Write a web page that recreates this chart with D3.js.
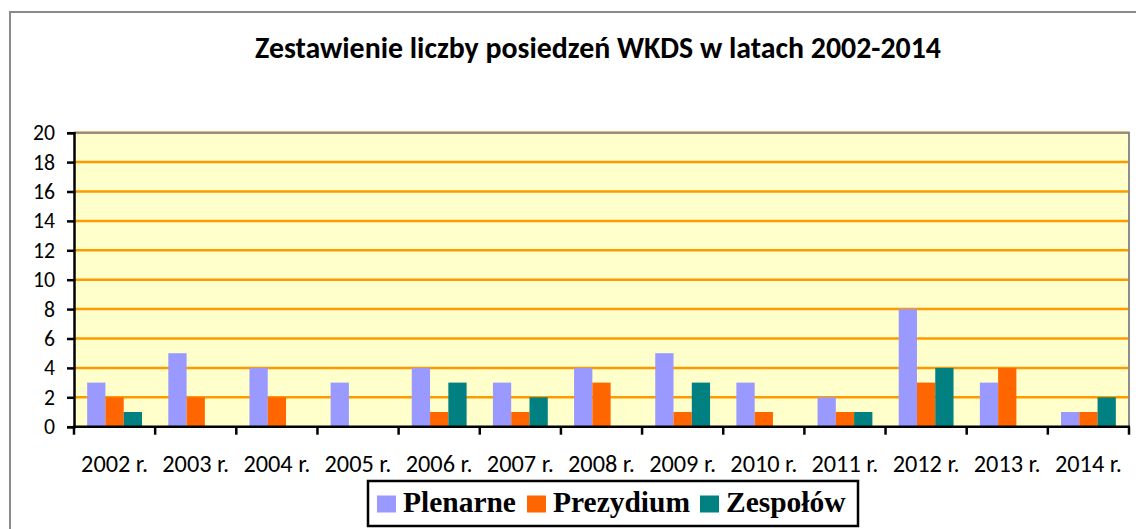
<!DOCTYPE html>
<html>
<head>
<meta charset="utf-8">
<script src="https://cdn.jsdelivr.net/npm/d3@7"></script>
<style>
  body { margin: 0; background: #fff; }
  svg { display: block; }
</style>
</head>
<body>
<svg id="chart" width="1136" height="529"></svg>
<script>
'use strict';

// data
const years = ['2002 r.', '2003 r.', '2004 r.', '2005 r.', '2006 r.', '2007 r.', '2008 r.',
  '2009 r.', '2010 r.', '2011 r.', '2012 r.', '2013 r.', '2014 r.'];
const seriesNames = ['Plenarne', 'Prezydium', 'Zespołów'];
const plenarne  = [3, 5, 4, 3, 4, 3, 4, 5, 3, 2, 8, 3, 1];
const prezydium = [2, 2, 2, 0, 1, 1, 3, 1, 1, 1, 3, 4, 1];
const zespolow  = [1, 0, 0, 0, 3, 2, 0, 3, 0, 1, 4, 0, 2];
const yTicks = [0, 2, 4, 6, 8, 10, 12, 14, 16, 18, 20];
const colours = ['#9999FF', '#FF6600', '#008080'];
const titleText = 'Zestawienie liczby posiedzeń WKDS w latach 2002-2014';

const calibri = 'Carlito, Lato, "Open Sans", sans-serif';
const serif = '"Liberation Serif", "Times New Roman", serif';

const svg = d3.select('#chart');

// pick a font size so that a sample string gets the width seen in the reference
function fitSize (sample, width, base, bold, family) {
  const t = svg.append('text')
    .attr('font-family', family)
    .attr('font-weight', bold ? 'bold' : 'normal')
    .attr('font-size', base)
    .text(sample);
  const w = t.node().getComputedTextLength();
  t.remove();
  return base * width / w;
}

const xLabelSize = fitSize('2002 r.', 67, 20, false, calibri);
const yLabelSize = fitSize('20', 22, 20, false, calibri);
const titleSize = fitSize(titleText, 686, 24, true, calibri);
const legendSize = fitSize('Prezydium', 137, 26, true, serif);

// outer chart frame
svg.append('rect')
  .attr('x', 10).attr('y', 12)
  .attr('width', 1140).attr('height', 540)
  .attr('fill', '#fff')
  .attr('stroke', '#8a8a8a')
  .attr('stroke-width', 2);

// plot area bounds
const pLeft = 74, pRight = 1129, pTop = 132.7, pBottom = 426.7;

const y = d3.scaleLinear().domain([0, 20]).range([pBottom, pTop]);
const x = d3.scaleBand().domain(years).range([pLeft, pRight]);
const x1 = d3.scaleBand().domain(seriesNames)
  .range([0, x.bandwidth()])
  .paddingInner(0)
  .paddingOuter(0.72);

// yellow background
svg.append('rect')
  .attr('x', pLeft).attr('y', pTop)
  .attr('width', pRight - pLeft).attr('height', pBottom - pTop)
  .attr('fill', '#FFFFCC');

// gridlines
svg.append('g')
  .selectAll('line')
  .data(yTicks.filter(d => d > 0))
  .join('line')
  .attr('x1', pLeft).attr('x2', pRight)
  .attr('y1', d => y(d)).attr('y2', d => y(d))
  .attr('stroke', '#FF9900')
  .attr('stroke-width', 2.5);

// top and right border of plot area
svg.append('path')
  .attr('d', `M${pLeft},${pTop}H${pRight}V${pBottom}`)
  .attr('fill', 'none')
  .attr('stroke', '#8c8c8c')
  .attr('stroke-width', 2);

// bars
const table = years.map((yr, i) => ({
  year: yr,
  values: [plenarne[i], prezydium[i], zespolow[i]]
}));

svg.append('g')
  .selectAll('g')
  .data(table)
  .join('g')
  .attr('transform', d => `translate(${x(d.year)},0)`)
  .selectAll('rect')
  .data(d => d.values.map((v, k) => ({ name: seriesNames[k], value: v, k: k })))
  .join('rect')
  .attr('x', d => x1(d.name))
  .attr('y', d => y(d.value))
  .attr('width', x1.bandwidth())
  .attr('height', d => y(0) - y(d.value))
  .attr('fill', d => colours[d.k]);

// y axis
const yAxis = svg.append('g')
  .attr('transform', `translate(${pLeft},0)`)
  .call(d3.axisLeft(y).tickValues(yTicks).tickSize(7).tickPadding(12));
yAxis.select('.domain').attr('stroke', '#000').attr('stroke-width', 2.5);
yAxis.selectAll('.tick line').attr('stroke', '#000').attr('stroke-width', 2.5);
yAxis.selectAll('.tick text')
  .attr('font-family', calibri)
  .attr('font-size', yLabelSize)
  .attr('fill', '#000');

// x axis: ticks sit on the category boundaries
svg.append('line')
  .attr('x1', pLeft - 1).attr('x2', pRight + 1)
  .attr('y1', pBottom).attr('y2', pBottom)
  .attr('stroke', '#000').attr('stroke-width', 2.5);

const bounds = years.map(d => x(d)).concat([pRight]);
svg.append('g')
  .selectAll('line')
  .data(bounds)
  .join('line')
  .attr('x1', d => d).attr('x2', d => d)
  .attr('y1', pBottom).attr('y2', pBottom + 8)
  .attr('stroke', '#000').attr('stroke-width', 2.5);

svg.append('g')
  .selectAll('text')
  .data(years)
  .join('text')
  .attr('x', d => x(d) + x.bandwidth() / 2)
  .attr('y', 472)
  .attr('text-anchor', 'middle')
  .attr('font-family', calibri)
  .attr('font-size', xLabelSize)
  .text(d => d);

// title
svg.append('text')
  .attr('x', 598)
  .attr('y', 58)
  .attr('text-anchor', 'middle')
  .attr('font-family', calibri)
  .attr('font-weight', 'bold')
  .attr('font-size', titleSize)
  .text(titleText);

// legend
const legend = svg.append('g');
legend.append('rect')
  .attr('x', 368).attr('y', 481)
  .attr('width', 490).attr('height', 45)
  .attr('fill', '#fff')
  .attr('stroke', '#000')
  .attr('stroke-width', 2.5);

const legendX = [377, 527, 700];
const items = legend.selectAll('g.item')
  .data(seriesNames)
  .join('g')
  .attr('class', 'item')
  .attr('transform', (d, i) => `translate(${legendX[i]},0)`);
items.append('rect')
  .attr('x', 0).attr('y', 495.5)
  .attr('width', 19).attr('height', 17)
  .attr('fill', (d, i) => colours[i]);
items.append('text')
  .attr('x', 26)
  .attr('y', 512)
  .attr('font-family', serif)
  .attr('font-weight', 'bold')
  .attr('font-size', legendSize)
  .text(d => d);
</script>
</body>
</html>
